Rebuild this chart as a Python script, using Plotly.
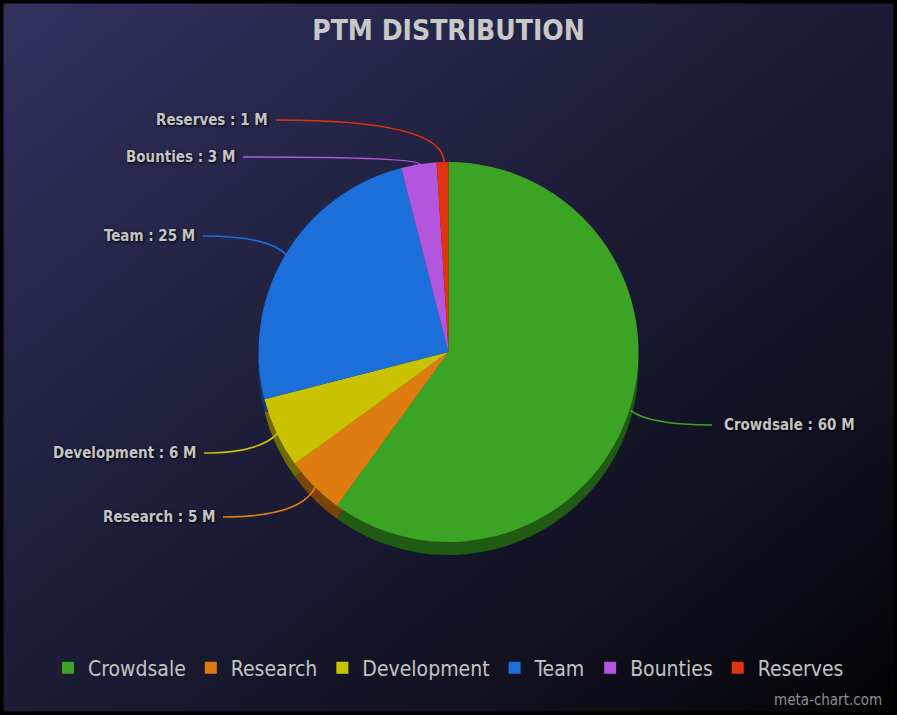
import base64
import math
import plotly.graph_objects as go

# ---- data ----
categories = ["Crowdsale", "Research", "Development", "Team", "Bounties", "Reserves"]
values = [60, 5, 6, 25, 3, 1]
unit = "M"

# ---- styles / layout ----
colors = ["#3ca424", "#de7c12", "#c9c200", "#1c6ed8", "#b355dd", "#e2330f"]
W, H = 897, 715
CX, CY, R = 450, 352, 190           # pie centre / radius in pixels
DEPTH = 13                           # fake 3D thickness
# label anchor points (pixels) and alignment
label_pos = [(722, 425, "left"), (217, 517, "right"), (198, 453, "right"),
             (197, 236, "right"), (237, 157, "right"), (270, 120, "right")]
FONT = "DejaVu Sans Condensed"


def darker(hexc, f=0.55):
    r, g, b = int(hexc[1:3], 16), int(hexc[3:5], 16), int(hexc[5:7], 16)
    return "#%02x%02x%02x" % (int(r * f), int(g * f), int(b * f))


def px2paper(x, y):
    return x / W, 1 - y / H


svg = f"""<svg xmlns='http://www.w3.org/2000/svg' width='{W}' height='{H}'>
<defs><linearGradient id='g' x1='0' y1='0' x2='1' y2='1'>
<stop offset='0' stop-color='#31315f'/>
<stop offset='0.45' stop-color='#1d1d39'/>
<stop offset='0.8' stop-color='#0f0f1c'/>
<stop offset='1' stop-color='#020204'/>
</linearGradient></defs>
<rect width='{W}' height='{H}' fill='url(#g)'/></svg>"""
bg_uri = "data:image/svg+xml;base64," + base64.b64encode(svg.encode()).decode()

y0, y1 = px2paper(0, CY + R)[1], px2paper(0, CY - R)[1]
ys0, ys1 = px2paper(0, CY + R + DEPTH)[1], px2paper(0, CY - R + DEPTH)[1]

fig = go.Figure()
fig.add_trace(go.Pie(
    labels=categories, values=values, sort=False, direction="clockwise", rotation=0,
    marker=dict(colors=[darker(c) for c in colors], line=dict(width=0)),
    textinfo="none", hoverinfo="skip", showlegend=False,
    domain=dict(x=[0.1, 0.9], y=[ys0, ys1]),
))
fig.add_trace(go.Pie(
    labels=categories, values=values, sort=False, direction="clockwise", rotation=0,
    marker=dict(colors=colors, line=dict(width=0)),
    textinfo="none", hoverinfo="label+value",
    domain=dict(x=[0.1, 0.9], y=[y0, y1]),
))

# leader lines + labels derived from data angles
total = sum(values)
shapes = []
annotations = []
cum = 0
for cat, v, col, (lx, ly, al) in zip(categories, values, colors, label_pos):
    mid = (cum + v / 2) / total * 2 * math.pi
    cum += v
    ex, ey = CX + R * math.sin(mid), CY - R * math.cos(mid)
    bx = CX + (R + 20) * math.sin(mid)
    endx = lx - 10 if al == "left" else lx + 6
    p_e = px2paper(ex, ey)
    p_c = px2paper(bx, ly)
    p_l = px2paper(endx, ly)
    shapes.append(dict(type="path", xref="paper", yref="paper",
                       path=f"M {p_e[0]},{p_e[1]} Q {p_c[0]},{p_c[1]} {p_l[0]},{p_l[1]}",
                       line=dict(color=col, width=1.6)))
    ax, ay = px2paper(lx, ly)
    annotations.append(dict(x=ax, y=ay, xref="paper", yref="paper", showarrow=False,
                            text=f"{cat} : {v} {unit}", xanchor=al, yanchor="middle",
                            font=dict(family=FONT, size=15, color="#c4c4c4",
                                      weight="bold", shadow="1px 1px 3px #000000")))

wx, wy = px2paper(884, 700)
annotations.append(dict(x=wx, y=wy, xref="paper", yref="paper", showarrow=False,
                        text="meta-chart.com", xanchor="right", yanchor="middle",
                        font=dict(family=FONT, size=15, color="#8e8e8e")))

shapes.append(dict(type="rect", xref="paper", yref="paper", x0=0, y0=0, x1=1, y1=1,
                   line=dict(color="#000000", width=7)))

fig.update_layout(
    width=W, height=H,
    margin=dict(l=0, r=0, t=0, b=0),
    paper_bgcolor="#1b1b33", plot_bgcolor="rgba(0,0,0,0)",
    images=[dict(source=bg_uri, xref="paper", yref="paper", x=0, y=1, sizex=1, sizey=1,
                 xanchor="left", yanchor="top", sizing="stretch", layer="below")],
    title=dict(text="<b>PTM DISTRIBUTION</b>", x=0.5, xanchor="center", y=1 - 30 / H,
               yanchor="middle",
               font=dict(family=FONT, size=28, color="#c8c8c8")),
    legend=dict(orientation="h", x=0.5, xanchor="center", y=1 - 668 / H, yanchor="middle",
                font=dict(family=FONT, size=21, color="#c4c4c4"),
                bgcolor="rgba(0,0,0,0)", itemclick=False),
    shapes=shapes, annotations=annotations,
)

fig.write_html("out.html", config={"displayModeBar": False},
               post_script="document.body.style.margin='0';")
